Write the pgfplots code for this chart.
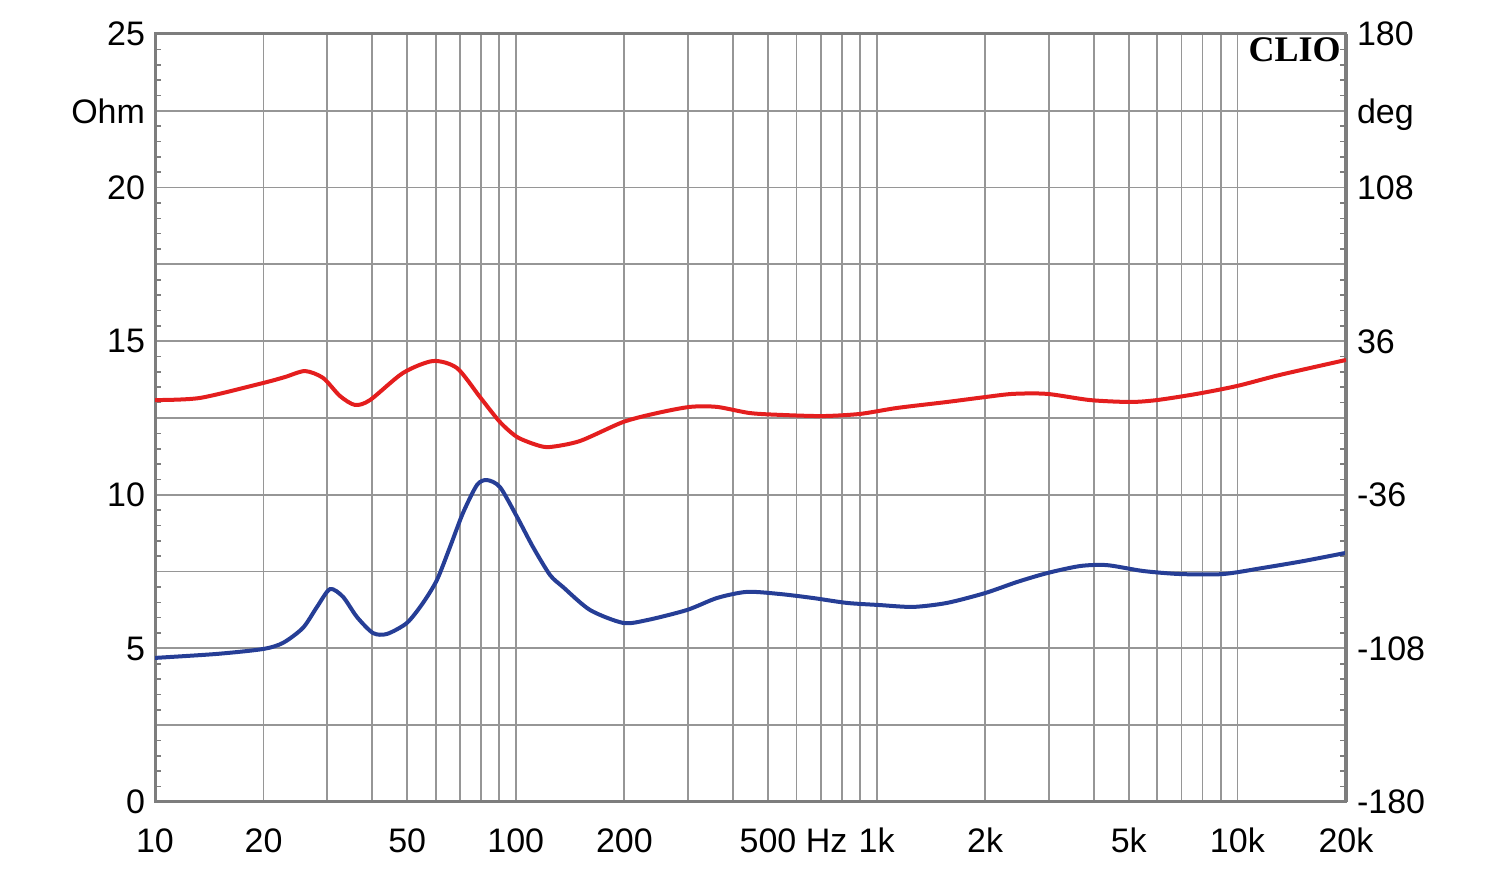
\documentclass[border=0pt]{standalone}
\usepackage{fontspec}
\setmainfont{Liberation Sans}
\newfontfamily\clioFont{Liberation Serif}
\usepackage{pgfplots}
\pgfplotsset{compat=1.18}
\definecolor{gridgray}{RGB}{150,150,150}
\definecolor{framegray}{RGB}{125,125,125}
\definecolor{curvered}{RGB}{228,30,30}
\definecolor{curveblue}{RGB}{38,62,150}
\begin{document}
\begin{tikzpicture}
\begin{axis}[
  scale only axis, width=595.5pt, height=384pt,
  xmode=log, xmin=10, xmax=20000,
  axis line style={framegray, line width=1.5pt},
  tick label style={font=\fontsize{17}{20}\selectfont, text depth=0pt},
  major tick length=0pt,
  ymin=0, ymax=25,
  xtick={10,20,30,40,50,60,70,80,90,100,200,300,400,500,600,700,800,900,1000,2000,3000,4000,5000,6000,7000,8000,9000,10000,20000},
  xticklabels={10,20,,,50,,,,,100,200,,,500\rlap{ Hz},,,,,1k,2k,,,5k,,,,,10k,20k},
  xticklabel style={text height=12.2pt, yshift=-9.5pt},
  ytick={0,2.5,5,7.5,10,12.5,15,17.5,20,22.5,25},
  yticklabels={0,,5,,10,,15,,20,Ohm,25},
  yticklabel style={xshift=-1.5pt},
  minor y tick num=4,
  minor tick length=3pt,
  tick align=inside,
  minor tick style={framegray, line width=0.8pt},
  xmajorgrids, ymajorgrids,
  major grid style={gridgray, line width=0.9pt},
]
\addplot[curveblue, line width=2pt, smooth, tension=0.45] coordinates {
(10,4.69) (14.85,4.82) (19.93,4.98) (22.64,5.18) (25.72,5.67) (28.12,6.35)
(30.55,6.93) (33.19,6.68) (36.30,6.02) (40.20,5.50) (43.95,5.47) (49.93,5.83)
(55.31,6.48) (60.47,7.23) (65.71,8.30) (71.40,9.41) (78.08,10.32) (83.22,10.48)
(90.4,10.25) (100.8,9.28) (111.6,8.30) (124.4,7.39) (135.1,7.00) (160.6,6.25)
(198.3,5.83) (231.0,5.92) (298.2,6.25) (361.1,6.64) (437.4,6.84) (539.9,6.77)
(666.6,6.64) (827.9,6.48) (1022,6.41) (1262,6.35) (1567,6.48) (1998,6.80)
(2449,7.16) (2967,7.45) (3662,7.68) (4351,7.71) (5474,7.52) (6933,7.42)
(9124,7.42) (11776,7.62) (15200,7.84) (20000,8.11)
};
\node[anchor=east, font=\clioFont\bfseries\fontsize{18}{20}\selectfont, inner sep=0pt]
  at (rel axis cs:0.9958,0.979) {CLIO};
\end{axis}
\begin{axis}[
  scale only axis, width=595.5pt, height=384pt,
  xmode=log, xmin=10, xmax=20000,
  axis line style={framegray, line width=1.5pt},
  tick label style={font=\fontsize{17}{20}\selectfont, text depth=0pt},
  major tick length=0pt,
  ymin=-180, ymax=180,
  axis y line*=right, axis x line=none,
  ytick={-180,-108,-36,36,108,144,180},
  yticklabels={-180,-108,-36,36,108,deg,180},
  yticklabel style={xshift=2pt},
]
\addplot[curvered, line width=2pt, smooth, tension=0.45] coordinates {
(10,8.4) (13.33,9.4) (19.93,16.4) (22.93,19.2) (26.04,22.0) (29.22,18.8)
(32.56,10.3) (35.84,6.1) (39.44,8.4) (48.68,21.1) (58.95,26.7) (68.71,23.4)
(79.6,9.8) (90.4,-1.9) (100.8,-8.9) (114.5,-12.7) (124.4,-13.6) (150.6,-10.8)
(198.3,-1.9) (246.3,2.3) (303.9,5.2) (361.1,5.2) (445.8,2.3) (550.4,1.4)
(710.2,0.9) (899.5,1.9) (1139,4.7) (1567,7.5) (1998,9.8) (2388,11.3)
(2967,11.3) (3903,8.4) (5040,7.5) (5987,8.4) (7727,11.3) (9975,15.0)
(13122,20.2) (20000,27.2)
};
\end{axis}
\pgfresetboundingbox
\path (-77.5pt,-34pt) rectangle (672.5pt,401pt);
\end{tikzpicture}
\end{document}
